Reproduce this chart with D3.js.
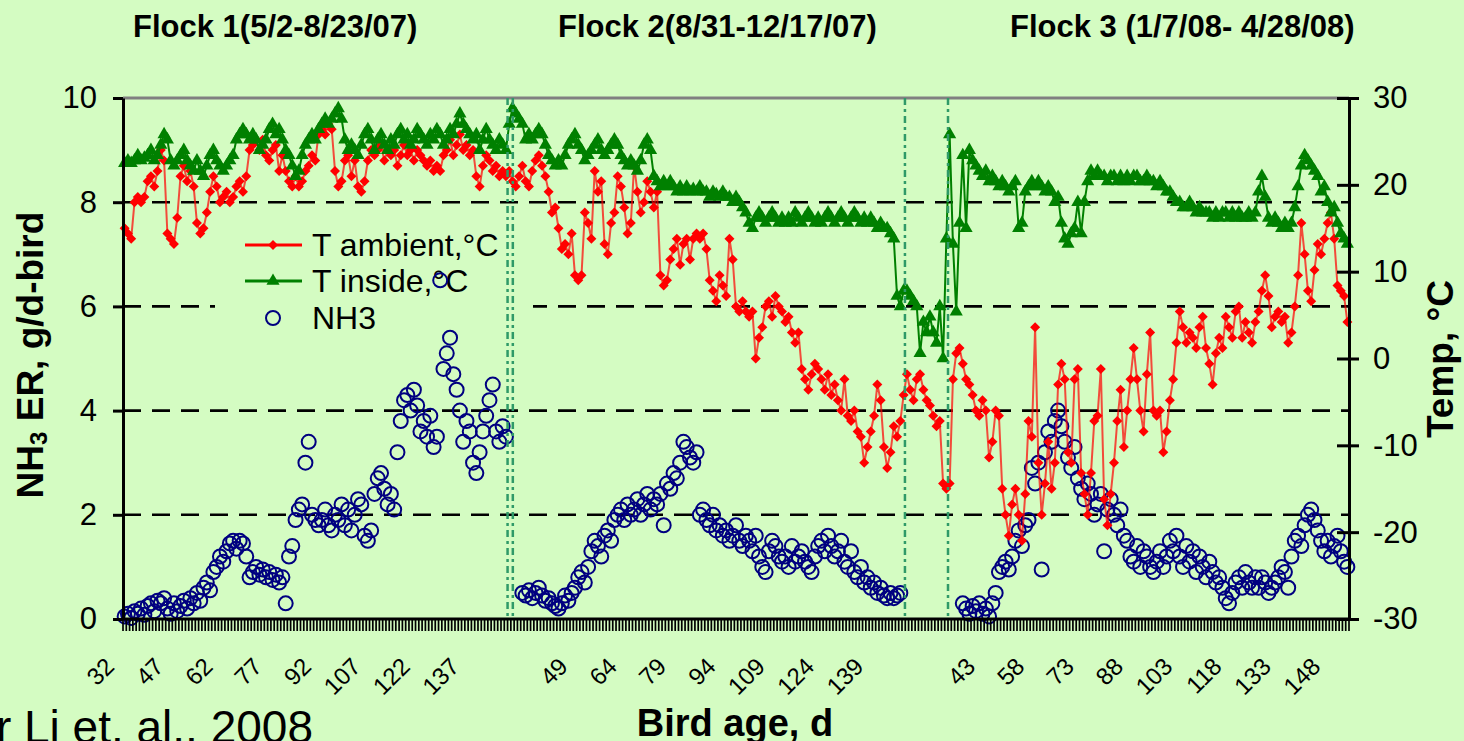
<!DOCTYPE html>
<html><head><meta charset="utf-8">
<script src="https://cdn.jsdelivr.net/npm/d3@7"></script>
<style>
html,body{margin:0;padding:0;background:#d4fcc2;}
svg{display:block;}
</style></head><body>
<svg id="chart" width="1464" height="741"></svg>
<script>
// ---------------- DATA ----------------
const flockTitles = ["Flock 1(5/2-8/23/07)", "Flock 2(8/31-12/17/07)", "Flock 3 (1/7/08- 4/28/08)"];
const flockFirstAge = [32, 28, 26];          // bird age of first category in each flock block
const flockDays = [117, 128, 128];           // number of daily categories per block
const flockTickAges = [
  [32, 47, 62, 77, 92, 107, 122, 137],
  [49, 64, 79, 94, 109, 124, 139],
  [43, 58, 73, 88, 103, 118, 133, 148]
];
const dividerCats = [117, 118.6, 237.9, 251];   // flock separators, in category units
const leftTicks = [0, 2, 4, 6, 8, 10];
const rightTicks = [-30, -20, -10, 0, 10, 20, 30];
const gridValues = [2, 4, 6, 8];
const seriesNames = ["T ambient,\u00B0C", "T inside,\u00B0C", "NH3"];

// T ambient, °C (one value per category, all flocks)
const tAmbient = [
15,14.4,13.8,18,18.6,18,18.6,20.4,21,19.8,
21.6,24,22.8,14.4,13.8,13.2,16.2,21,22.2,20.4,
21.6,19.8,15.6,14.4,15,16.8,19.2,21,19.8,18,
18.6,19.2,18,18.6,19.8,20.4,19.2,21,24,24.6,
25.2,24,25.2,23.4,22.8,24,24.6,21.6,23.4,21.6,
20.4,19.8,21,19.8,20.4,21.6,22.2,23.4,22.8,25.8,
26.4,25.8,27,26.4,21.6,19.8,20.4,22.8,23.4,21,
22.8,19.8,19.2,20.4,22.8,24,23.4,24,24.6,22.8,
24,23.4,24,22.2,23.4,24.6,23.4,24,22.8,24,
23.4,22.8,22.2,22.8,21.6,22.2,21.6,23.4,24,25.2,
23.4,24.6,25.8,24,24.6,23.4,24,21,19.8,22.2,
23.4,22.8,21.6,22.2,21,21.6,21,
21.6,20.4,19.8,21,22.2,20.4,19.8,21.6,22.8,23.4,
22.2,21,19.2,16.8,17.4,15,12.6,13.2,12,14.4,
9.6,9,9.6,16.8,15.6,13.8,21.6,19.2,20.4,13.2,
12,15.6,16.8,21,19.8,17.4,14.4,15.6,22.2,19.2,
16.8,18,20.4,19.2,17.4,19.2,9.6,8.4,9,11.4,
12.6,13.8,10.8,13.2,13.8,11.4,13.8,14.4,13.8,14.4,
12.6,9,7.8,6.6,9.6,8.4,7.2,13.8,11.4,6,
5.4,6.6,5.4,4.8,5.4,0,2.4,3.6,6,6.6,
4.8,7.2,6,5.4,4.2,4.8,3,1.8,3,-1.2,
-2.4,-3.6,-1.8,-0.6,-1.2,-2.4,-3.6,-1.8,-4.2,-3,
-4.8,-6,-2.4,-6.6,-7.2,-6,-8.4,-9,-12,-10.2,
-8.4,-6.6,-3,-4.8,-10.2,-12.6,-10.8,-7.8,-9,-7.2,-4.2,
-1.8,-3.6,-4.8,-2.4,-1.8,-3.6,-4.8,-5.4,-6.6,-7.8,-7.2,-14.4,-15,
-14.4,-2.4,0.6,1.2,-0.6,-2.4,-3,-4.2,-6,-6.6,
-4.8,-6,-11.4,-9.6,-6,-6.6,-15,-18,-20.4,-16.8,
-15,-18,-21,-15.6,-7.2,-9,3.6,-12,-18,-14.4,
-9.6,-15,-12,-3,-0.6,-2.4,-10.8,-12,-2.4,-1.2,
-13.2,-15.6,-18,-13.2,-7.2,-6.6,-1.2,-16.2,-19.2,-15.6,
-12,-7.2,-3.6,-10.2,-6,-2.4,1.2,-2.4,-6,-8.4,
-1.8,3,-6,-6.6,-6,-10.8,-8.4,-4.8,-2.4,1.8,
5.4,3.6,1.8,3,2.4,1.2,3.6,4.8,1.2,-0.6,
-3,0.6,2.4,1.2,4.8,3.6,2.4,5.4,6,2.4,
4.2,3,1.8,4.2,5.4,7.8,9.6,7.2,3.6,4.8,
5.4,4.2,4.8,1.8,3,6,9.6,15.6,12,7.8,
6.6,10.2,13.2,12,13.8,15.6,16.8,13.8,8.4,7.8,7.2,4.2
];

// T inside, °C
const tInside = [
22.5,22.8,22.5,22.8,23.4,22.8,23.1,23.4,24,22.8,
23.4,24.6,25.8,25.2,22.8,22.2,22.8,23.4,24,22.8,
22.2,21.6,22.8,21.6,21,22.2,23.4,24,22.8,22.2,
21.6,22.2,22.8,23.4,25.2,25.8,26.4,25.8,25.2,25.8,
25.2,24,24.6,25.2,26.4,27,25.8,26.4,25.2,24,
23.4,22.2,21,21.6,23.4,24.6,25.2,25.8,25.2,26.4,
27,27.6,27,27.6,28.2,28.8,27.6,25.2,24,24.6,
24,23.4,24.6,25.8,26.4,25.2,24,25.2,25.8,24.6,
24,25.2,24.6,25.8,26.4,25.2,25.8,24.6,25.2,26.4,
25.8,25.2,24.6,25.8,25.2,26.4,25.8,24.6,25.2,26.4,
25.8,27,28.2,27,26.4,25.8,25.2,25.8,24,25.2,
26.4,25.2,24.6,24,25.2,24.6,24,
27,28.8,28.2,27.6,27,25.2,25.8,25.2,25.8,26.4,
25.8,24.6,23.4,22.8,22.2,22.8,22.2,23.4,24.6,25.2,
25.8,24.6,24,22.8,23.4,24,24.6,25.2,24,23.4,
24,24.6,25.2,24.6,23.4,22.8,22.2,22.8,22.2,21.6,
22.8,24.6,25.2,24,21,20.4,19.8,20.4,19.8,20.4,
19.8,19.2,19.8,19.2,19.8,19.2,19.5,19.2,19.8,19.2,
19.2,18.6,19.2,18.9,18.6,19.2,18.6,18.6,18,18.6,
18,17.4,16.8,15.6,15,16.2,16.8,16.2,15.6,16.2,
16.8,16.2,15.6,16.2,15.6,16.2,15.6,16.8,16.2,15.6,
16.2,16.8,16.2,15.6,16.2,15.6,16.2,16.8,16.2,15.6,
16.2,16.8,16.2,15.6,16.2,16.8,16.2,15.6,16.2,15.6,
16.2,15.6,15,15.6,15,15,14.4,13.8,7.2,6,7.8,
7.8,7.2,6.6,6,0.6,4.2,3,4.8,3,1.8,6,0,13.8,
25.8,13.2,5.4,15.6,23.4,15,24,22.8,22.2,21.6,
21,21.6,20.4,21,20.4,19.8,20.4,19.8,19.2,19.8,
20.4,15,15.6,19.2,19.8,20.4,19.8,20.4,19.8,19.2,
19.8,19.2,18,18.6,15.6,13.8,13.2,14.4,15,18,
14.4,18,20.4,21.6,21,21.6,21,21,20.4,21,
21,20.4,21,20.4,21,20.4,21,21,20.4,20.4,
21,20.4,20.4,19.8,20.4,19.8,19.2,19.2,18.6,18,
18,17.4,17.4,18,17.4,16.8,17.4,16.8,16.8,16.8,
16.2,16.8,16.2,16.8,16.8,16.2,16.8,16.2,16.8,16.2,
16.2,16.8,16.2,16.8,19.2,21,18.6,16.2,15.6,16.2,
15.6,15,15.6,15,15.6,17.4,19.8,22.2,23.4,22.8,
22.2,21.6,21,19.2,19.8,18,16.8,17.4,15.6,14.4,13.8,13.2
];

// NH3 emission rate, g/d-bird (per flock, daily from nh3StartAge)
const nh3StartAge = [32, 32, 36];
const nh3Flock1 = [
0.05,0.1,0.02,0.15,0.1,0.2,0.08,0.25,0.3,0.15,
0.35,0.3,0.4,0.2,0.1,0.3,0.15,0.25,0.35,0.2,
0.4,0.3,0.5,0.35,0.6,0.7,0.55,0.9,1.0,1.2,
1.1,1.3,1.45,1.5,1.35,1.5,1.45,1.2,0.8,0.9,
1.0,0.85,0.95,0.8,0.9,0.75,0.85,0.7,0.8,0.3,
1.2,1.4,1.9,2.1,2.2,3.0,3.4,2.0,1.9,1.8,
1.9,2.1,1.8,1.7,2.0,1.9,2.2,1.8,2.1,1.7,
2.0,2.3,2.2,1.6,1.5,1.7,2.4,2.7,2.8,2.5,
2.2,2.4,2.1,3.2,3.8,4.2,4.3,4.0,4.4,4.1,
3.6,3.8,3.5,3.9,3.3,3.5,6.5,4.8,5.1,5.4,
4.7,4.4,4.0,3.4,3.8,3.6,3.0,2.8,3.2,3.6,
3.9,4.2,4.5,3.6,3.4,3.7,3.5
];
const nh3Flock2 = [
0.5,0.45,0.55,0.4,0.5,0.6,0.45,0.35,0.4,0.3,
0.25,0.2,0.3,0.45,0.35,0.5,0.6,0.8,0.9,0.7,
1.0,1.3,1.5,1.4,1.2,1.6,1.7,1.5,1.9,2.0,
2.1,1.9,2.2,2.0,2.1,2.3,2.0,2.2,2.4,2.1,
2.3,2.2,2.4,1.8,2.6,2.5,2.8,2.7,3.0,3.4,
3.3,3.1,3.0,3.2,2.0,2.1,1.9,1.8,2.0,1.7,
1.8,1.6,1.7,1.5,1.6,1.8,1.5,1.4,1.6,1.5,
1.3,1.6,1.2,1.0,0.9,1.3,1.5,1.4,1.2,1.1,
1.2,1.0,1.4,1.1,1.2,1.3,1.1,1.0,0.9,1.2,
1.4,1.5,1.3,1.6,1.4,1.2,1.3,1.5,1.1,1.0,
1.3,0.9,0.8,1.0,0.7,0.8,0.6,0.7,0.5,0.6,
0.45,0.4,0.5,0.4,0.45,0.5
];
const nh3Flock3 = [
0.3,0.2,0.1,0.25,0.15,0.3,0.1,0.2,0.05,0.3,
0.5,0.9,1.0,1.1,0.95,1.2,1.5,1.7,1.4,1.8,
1.9,2.9,2.6,3.0,0.95,3.2,3.6,3.4,3.8,4.0,
3.7,3.4,3.1,2.9,3.3,2.7,2.5,2.3,2.6,2.4,
2.0,2.2,2.4,1.3,2.1,2.3,2.0,1.8,2.1,1.6,
1.5,1.2,1.1,1.4,1.0,1.3,1.2,1.0,0.9,1.1,
1.3,1.0,1.2,1.5,1.3,1.6,1.2,1.0,1.4,1.1,
1.3,0.9,1.2,1.0,0.8,1.1,0.9,0.7,0.8,0.6,
0.4,0.3,0.5,0.7,0.8,0.6,0.9,0.7,0.6,0.8,
0.6,0.8,0.7,0.5,0.6,0.7,0.8,1.0,0.9,0.6,
1.2,1.5,1.6,1.4,1.8,2.0,2.1,1.9,1.7,1.5,
1.3,1.5,1.2,1.4,1.6,1.3,1.1,1.0
];
const nh3Flocks = [nh3Flock1, nh3Flock2, nh3Flock3];

// ---------------- LAYOUT / STYLE ----------------
const W = 1464, H = 741;
const L = 123, R = 1349, T = 98, B = 619;
const BG = "#d4fcc2";
const FONT = "'Liberation Sans', Arial, Helvetica, sans-serif";
const RED = "#ff0000", GREEN = "#008000", NAVY = "#000080", DIV = "#2f9a68";
const titleX = [133, 558, 1010];

const svg = d3.select("#chart").attr("font-family", FONT);
svg.append("rect").attr("width", W).attr("height", H).attr("fill", BG);

const nCat = d3.sum(flockDays);
const flockStart = flockDays.map((d, i) => d3.sum(flockDays.slice(0, i)));
const x = d3.scaleLinear().domain([0, nCat]).range([L, R]);
const cx = i => x(i + 0.5);
const yL = d3.scaleLinear().domain([0, 10]).range([B, T]);
const yR = d3.scaleLinear().domain([-30, 30]).range([B, T]);

// gridlines
svg.append("g").selectAll("line").data(gridValues).join("line")
  .attr("x1", L).attr("x2", R).attr("y1", d => yL(d)).attr("y2", d => yL(d))
  .attr("stroke", "#000").attr("stroke-width", 2.6).attr("stroke-dasharray", "18,11");
// top border
svg.append("line").attr("x1", L).attr("x2", R).attr("y1", T).attr("y2", T)
  .attr("stroke", "#808080").attr("stroke-width", 3);

// legend background (covers gridline)
const legX = 215, legY = 224;
svg.append("rect").attr("x", legX).attr("y", legY).attr("width", 318).attr("height", 108).attr("fill", BG);

const diamond = d3.symbol(d3.symbolSquare, 50)();
const tri = d3.symbol(d3.symbolTriangle, 75)();

// legend entries
const legRows = [245, 281, 318];
const lg = svg.append("g");
lg.append("line").attr("x1", 245).attr("x2", 302).attr("y1", legRows[0]).attr("y2", legRows[0]).attr("stroke", RED).attr("stroke-width", 3);
lg.append("path").attr("d", diamond).attr("transform", `translate(273,${legRows[0]}) rotate(45)`).attr("fill", RED);
lg.append("line").attr("x1", 245).attr("x2", 302).attr("y1", legRows[1]).attr("y2", legRows[1]).attr("stroke", GREEN).attr("stroke-width", 3);
lg.append("path").attr("d", tri).attr("transform", `translate(273,${legRows[1]})`).attr("fill", GREEN);
lg.append("circle").attr("cx", 273).attr("cy", legRows[2]).attr("r", 7).attr("fill", "none").attr("stroke", NAVY).attr("stroke-width", 2);
lg.selectAll("text").data(seriesNames).join("text")
  .attr("x", 312).attr("y", (d, i) => legRows[i] + 11)
  .attr("font-size", 32).attr("fill", "#000").text(d => d);

// NH3 circles (primary axis)
const nh3Pts = [];
nh3Flocks.forEach((arr, f) => arr.forEach((v, k) => {
  nh3Pts.push({ i: flockStart[f] + (nh3StartAge[f] - flockFirstAge[f]) + k, v });
}));
svg.append("g").selectAll("circle").data(nh3Pts).join("circle")
  .attr("cx", d => cx(d.i)).attr("cy", d => yL(d.v)).attr("r", 7)
  .attr("fill", "none").attr("stroke", NAVY).attr("stroke-width", 2);

// T ambient
const lineR = d3.line().x((d, i) => cx(i)).y(d => yR(d));
svg.append("path").datum(tAmbient).attr("d", lineR).attr("fill", "none")
  .attr("stroke", RED).attr("stroke-width", 2).attr("stroke-opacity", 0.7);
svg.append("g").selectAll("path").data(tAmbient).join("path")
  .attr("d", diamond).attr("transform", (d, i) => `translate(${cx(i)},${yR(d)}) rotate(45)`).attr("fill", RED);

// T inside
svg.append("path").datum(tInside).attr("d", lineR).attr("fill", "none")
  .attr("stroke", GREEN).attr("stroke-width", 2);
svg.append("g").selectAll("path").data(tInside).join("path")
  .attr("d", tri).attr("transform", (d, i) => `translate(${cx(i)},${yR(d)})`).attr("fill", GREEN);

// flock dividers
svg.append("g").selectAll("line").data(dividerCats).join("line")
  .attr("x1", d => x(d)).attr("x2", d => x(d)).attr("y1", T).attr("y2", B)
  .attr("stroke", DIV).attr("stroke-width", 2.5).attr("stroke-dasharray", "7,4,3,4");

// axes
const fmt = d => String(d);
function styleAxis(g) {
  g.attr("font-size", 31).attr("font-family", FONT);
  g.select(".domain").attr("stroke", "#000").attr("stroke-width", 3);
  g.selectAll(".tick line").attr("stroke", "#000").attr("stroke-width", 3);
  g.selectAll(".tick text").attr("fill", "#000");
}
const gL = svg.append("g").attr("transform", `translate(${L},0)`)
  .call(d3.axisLeft(yL).tickValues(leftTicks).tickFormat(fmt).tickSize(10).tickSizeOuter(0).tickPadding(16));
styleAxis(gL);
const gR = svg.append("g").attr("transform", `translate(${R},0)`)
  .call(d3.axisRight(yR).tickValues(rightTicks).tickFormat(fmt).tickSize(10).tickSizeOuter(0).tickPadding(14));
styleAxis(gR);
gR.selectAll(".tick").append("line").attr("x1", -12).attr("x2", 0).attr("y1", 0).attr("y2", 0)
  .attr("stroke", "#000").attr("stroke-width", 3);

// bottom axis: one tick per daily category
const catEdges = d3.range(nCat + 1);
svg.append("g").selectAll("line").data(catEdges).join("line")
  .attr("x1", d => x(d)).attr("x2", d => x(d)).attr("y1", B).attr("y2", B + 12)
  .attr("stroke", "#000").attr("stroke-width", 1.7);
svg.append("line").attr("x1", L - 1.5).attr("x2", R + 1.5).attr("y1", B).attr("y2", B)
  .attr("stroke", "#000").attr("stroke-width", 3);

// x tick labels
const xLabels = [];
flockTickAges.forEach((ages, f) => ages.forEach(a => xLabels.push({ i: flockStart[f] + (a - flockFirstAge[f]), t: String(a) })));
svg.append("g").selectAll("text").data(xLabels).join("text")
  .attr("transform", d => `translate(${cx(d.i) - 15},662) rotate(-45)`)
  .attr("text-anchor", "end").attr("dy", "0.35em")
  .attr("font-size", 24).attr("fill", "#000").text(d => d.t);

// flock titles
svg.append("g").selectAll("text").data(flockTitles).join("text")
  .attr("x", (d, i) => titleX[i]).attr("y", 37)
  .attr("font-size", 31).attr("font-weight", "bold").attr("fill", "#000").text(d => d);

// axis titles
const yt = svg.append("text").attr("transform", "translate(30,355) rotate(-90)")
  .attr("text-anchor", "middle").attr("dominant-baseline", "central")
  .attr("font-size", 37).attr("font-weight", "bold").attr("fill", "#000");
yt.append("tspan").text("NH");
yt.append("tspan").attr("font-size", 24).attr("dy", 8).text("3");
yt.append("tspan").attr("dy", -8).text(" ER, g/d-bird");

svg.append("text").attr("transform", "translate(1440,359) rotate(-90)")
  .attr("text-anchor", "middle").attr("dominant-baseline", "central")
  .attr("font-size", 37).attr("font-weight", "bold").attr("fill", "#000").text("Temp, \u00B0C");

svg.append("text").attr("x", 735).attr("y", 736).attr("text-anchor", "middle")
  .attr("font-size", 38).attr("font-weight", "bold").attr("fill", "#000").text("Bird age, d");

svg.append("text").attr("x", 313).attr("y", 743).attr("text-anchor", "end")
  .attr("font-size", 46).attr("fill", "#000").text("after Li et. al., 2008");
</script>
</body></html>
